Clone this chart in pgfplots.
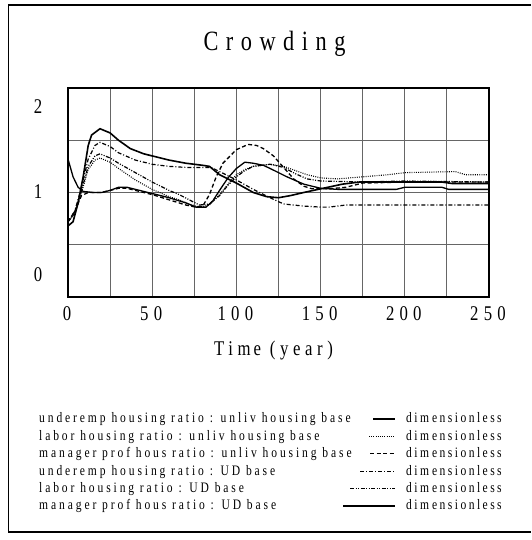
\documentclass[border=0pt]{standalone}
\usepackage{fontspec}
\setmainfont{Liberation Serif}
\newfontfamily\lfont{Liberation Serif}[FakeStretch=0.8,LetterSpace=20]
\newfontfamily\dfont{Liberation Serif}[FakeStretch=0.8,LetterSpace=17]
\newfontfamily\tkfont{Liberation Serif}[FakeStretch=0.8,LetterSpace=25]
\newfontfamily\xlfont{Liberation Serif}[FakeStretch=0.8,LetterSpace=22]
\newfontfamily\ttfont{Liberation Serif}[FakeStretch=0.8,LetterSpace=27]
\usepackage{pgfplots}
\pgfplotsset{compat=1.18}
\pgfplotstableread{
t v
0 1.32
3 1.15
6 1.05
9 1.01
15 1.00
20 1.00
25 1.02
30 1.05
35 1.05
40 1.03
50 0.99
60 0.95
70 0.90
76 0.86
82 0.86
86 0.92
90 1.02
95 1.14
100 1.23
105 1.29
110 1.28
116 1.26
120 1.23
130 1.15
140 1.08
150 1.04
160 1.03
195 1.03
200 1.05
222 1.05
226 1.03
250 1.03
}\sA
\pgfplotstableread{
t v
0 0.72
4 0.80
8 1.00
12 1.22
16 1.31
19 1.33
25 1.29
30 1.23
40 1.12
50 1.03
60 0.96
66 0.93
72 0.89
78 0.86
84 0.88
90 0.98
95 1.08
100 1.17
105 1.22
110 1.25
120 1.27
128 1.25
135 1.21
142 1.17
150 1.14
160 1.13
175 1.15
190 1.17
200 1.19
230 1.20
236 1.17
250 1.17
}\sB
\pgfplotstableread{
t v
0 0.72
4 0.82
8 0.97
12 1.00
20 1.00
25 1.02
30 1.04
35 1.04
40 1.02
50 0.98
60 0.93
70 0.88
76 0.86
80 0.87
84 0.98
88 1.15
92 1.28
100 1.41
107 1.46
112 1.45
116 1.42
122 1.35
128 1.24
134 1.13
140 1.06
145 1.035
155 1.035
165 1.05
175 1.09
200 1.10
250 1.10
}\sC
\pgfplotstableread{
t v
0 0.72
4 0.82
8 1.05
12 1.32
16 1.45
19 1.48
25 1.44
30 1.38
40 1.31
50 1.27
60 1.25
70 1.24
80 1.24
85 1.24
90 1.20
100 1.12
110 1.03
120 0.95
128 0.89
140 0.87
150 0.86
155 0.86
165 0.88
250 0.88
}\sD
\pgfplotstableread{
t v
0 0.72
4 0.80
8 1.02
12 1.25
16 1.35
19 1.37
25 1.33
30 1.28
40 1.19
50 1.10
60 1.02
66 0.98
72 0.93
78 0.88
84 0.89
90 0.97
95 1.07
100 1.15
105 1.21
110 1.25
120 1.27
128 1.24
135 1.18
142 1.13
150 1.11
175 1.10
200 1.11
250 1.10
}\sE
\pgfplotstableread{
t v
0 0.68
3 0.72
6 0.90
9 1.15
12 1.45
14 1.55
19 1.61
25 1.57
30 1.50
37 1.42
45 1.37
50 1.35
60 1.31
70 1.28
80 1.26
84 1.25
90 1.17
100 1.09
110 1.00
118 0.96
125 0.95
132 0.97
140 1.00
150 1.035
163 1.08
173 1.10
222 1.10
228 1.086
250 1.086
}\sF
\tikzset{
  pdot/.style={line width=1.1bp, dash pattern=on 0.9bp off 1.3bp},
  pdash/.style={line width=1.3bp, dash pattern=on 4bp off 2.5bp},
  pdd/.style={line width=1.2bp, dash pattern=on 4bp off 2bp on 1bp off 2bp},
  pddd/.style={line width=1.2bp, dash pattern=on 4bp off 1.5bp on 1bp off 1.5bp on 1bp off 1.5bp},
}
\begin{document}
\begin{tikzpicture}[x=1bp,y=1bp]
\path (0,0) rectangle (531,540);
\draw[line width=1.3bp] (531,535) -- (8.5,535) -- (8.5,8) -- (531,8);
\begin{axis}[
  at={(68bp,243bp)}, anchor=south west,
  width=421bp, height=209bp, scale only axis,
  xmin=0, xmax=250, ymin=0, ymax=2,
  xtick={0,25,...,250},
  xticklabels={0,,50,,100,,150,,200,,250},
  ytick={0,0.5,1,1.5,2},
  yticklabels={},
  extra y ticks={0.21,1.01,1.82},
  extra y tick labels={0,1,2},
  extra y tick style={grid=none, major tick length=0pt},
  major tick length=0pt,
  grid=major,
  grid style={line width=0.9bp, draw=black!60},
  axis line style={line width=2.8bp},
  /pgf/number format/assume math mode=true,
  tick label style={font=\tkfont\fontsize{21}{21}\selectfont},
  xticklabel style={anchor=center, yshift=-17bp, xshift=-1bp},
  yticklabel style={anchor=center, xshift=-30bp},
  xlabel={Tim\kern3bp e (year)},
  xlabel style={at={(axis description cs:0.5,0)}, anchor=center, yshift=-54bp, xshift=-5bp, font=\xlfont\fontsize{21}{21}\selectfont},
  title={Crowding},
  title style={at={(axis description cs:0.5,1)}, anchor=center, yshift=38bp, xshift=-4bp, font=\ttfont\fontsize{28}{28}\selectfont},
]
\addplot[black, line width=1.3bp] table[x=t,y=v] {\sA};
\addplot[black, pdot] table[x=t,y=v] {\sB};
\addplot[black, pdash] table[x=t,y=v] {\sC};
\addplot[black, pdd] table[x=t,y=v] {\sD};
\addplot[black, pddd] table[x=t,y=v] {\sE};
\addplot[black, line width=1.6bp] table[x=t,y=v] {\sF};
\end{axis}
\begin{scope}[every node/.style={font=\lfont\fontsize{14.5}{14.5}\selectfont, anchor=base west, inner sep=0pt}]
\node at (39,117) {underem\kern3bp p housing ratio : unliv housing base};
\node at (39,99.6) {labor housing ratio : unliv housing base};
\node at (39,82.2) {m\kern3bp anager prof hous ratio : unliv housing base};
\node at (39,64.8) {underem\kern3bp p housing ratio : UD base};
\node at (39,47.4) {labor housing ratio : UD base};
\node at (39,30) {m\kern3bp anager prof hous ratio : UD base};
\foreach \yy in {117,99.6,82.2,64.8,47.4,30} {
  \node[font=\dfont\fontsize{14.5}{14.5}\selectfont] at (406,\yy) {dim\kern3bp ensionless};
}
\draw[line width=1.3bp] (373,121) -- (395,121);
\draw[pdot] (369,103.6) -- (395,103.6);
\draw[pdash] (370,86.2) -- (395,86.2);
\draw[pdd] (360,68.8) -- (395,68.8);
\draw[pddd] (350,51.4) -- (395,51.4);
\draw[line width=1.6bp] (343,34) -- (395,34);
\end{scope}
\end{tikzpicture}
\end{document}
